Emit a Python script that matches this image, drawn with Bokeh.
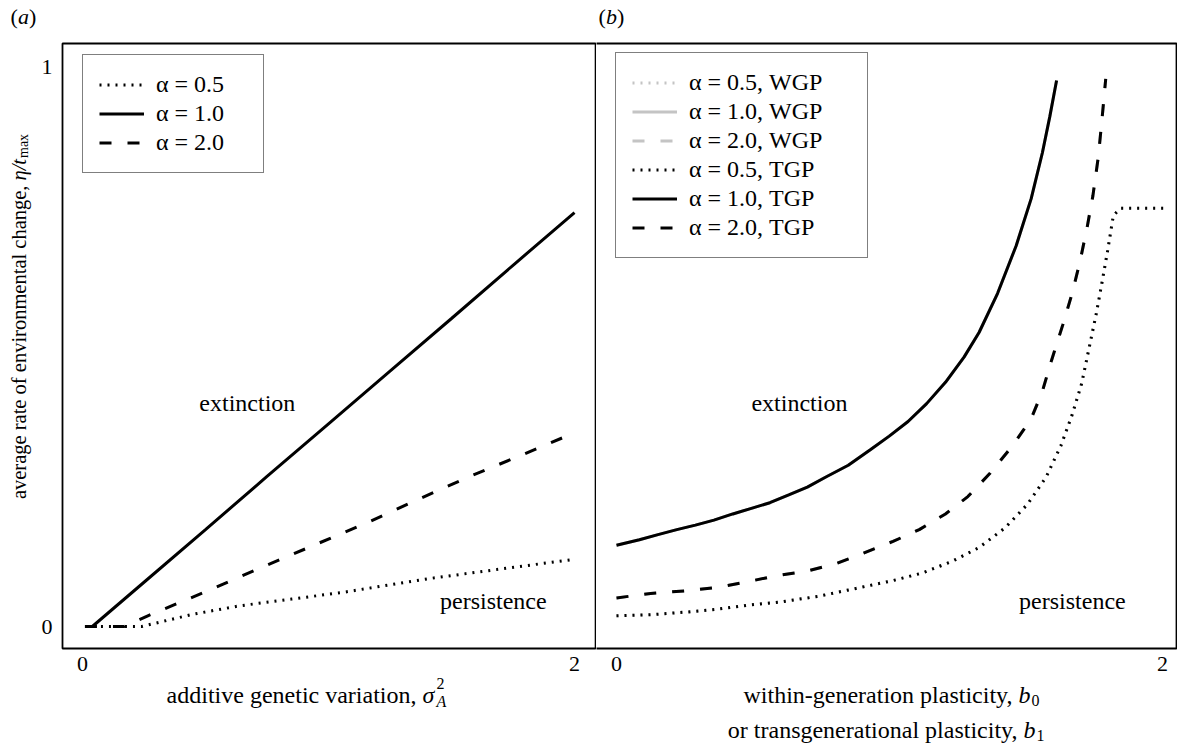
import math
from bokeh.plotting import figure
from bokeh.layouts import row
from bokeh.models import (Range1d, FixedTicker, Legend, LegendItem, Label, LinearAxis,
                          BoxAnnotation)
from bokeh.embed import file_html
from bokeh.resources import INLINE

# ---------------- data ----------------
# panel (a): additive genetic variation vs critical rate
A_X_05 = [0.01, 0.24, 0.45, 0.64, 0.85, 1.06, 1.23, 1.40, 1.57, 1.74, 2.0]
A_Y_05 = [0.0, 0.0, 0.022, 0.037, 0.049, 0.061, 0.073, 0.085, 0.095, 0.105, 0.12]
A_X_10 = [0.01, 0.04, 0.25, 0.5, 0.75, 1.0, 1.25, 1.5, 1.75, 2.0]
A_Y_10 = [0.0, 0.0, 0.079, 0.173, 0.268, 0.362, 0.456, 0.550, 0.645, 0.739]
A_X_20 = [0.01, 0.17, 0.27, 0.50, 0.72, 0.94, 1.16, 1.37, 1.58, 1.79, 2.0]
A_Y_20 = [0.0, 0.0, 0.020, 0.062, 0.104, 0.145, 0.186, 0.228, 0.269, 0.307, 0.346]

# panel (b): plasticity vs critical rate
B_X_05 = [0.0, 0.125, 0.262, 0.371, 0.480, 0.603, 0.740, 0.877, 1.013, 1.123, 1.232, 1.328,
          1.423, 1.505, 1.574, 1.628, 1.669, 1.704, 1.731, 1.758, 1.779, 1.799, 1.820, 1.847,
          1.902, 1.957, 2.011]
B_Y_05 = [0.019, 0.021, 0.026, 0.031, 0.038, 0.044, 0.054, 0.068, 0.082, 0.096, 0.117, 0.141,
          0.176, 0.218, 0.267, 0.323, 0.378, 0.434, 0.497, 0.560, 0.616, 0.671, 0.734, 0.747,
          0.747, 0.747, 0.747]
B_X_10 = [0.0, 0.084, 0.152, 0.221, 0.289, 0.357, 0.426, 0.494, 0.562, 0.631, 0.699, 0.767,
          0.849, 0.931, 0.999, 1.068, 1.136, 1.205, 1.273, 1.328, 1.396, 1.464, 1.519, 1.560,
          1.587, 1.612]
B_Y_10 = [0.145, 0.155, 0.164, 0.173, 0.181, 0.190, 0.201, 0.211, 0.221, 0.235, 0.249, 0.267,
          0.288, 0.316, 0.340, 0.366, 0.398, 0.436, 0.481, 0.525, 0.595, 0.680, 0.764, 0.846,
          0.910, 0.975]
B_X_20 = [0.0, 0.125, 0.262, 0.371, 0.480, 0.590, 0.699, 0.808, 0.904, 1.013, 1.109, 1.205,
          1.287, 1.369, 1.451, 1.519, 1.560, 1.594, 1.635, 1.669, 1.697, 1.724, 1.745, 1.765,
          1.779, 1.792]
B_Y_20 = [0.051, 0.059, 0.064, 0.070, 0.080, 0.091, 0.099, 0.113, 0.131, 0.152, 0.173, 0.201,
          0.232, 0.274, 0.323, 0.371, 0.420, 0.476, 0.539, 0.595, 0.650, 0.713, 0.769, 0.839,
          0.909, 0.978]

ALPHAS = ["0.5", "1.0", "2.0"]
X_TICKS = [0, 2]
Y_TICKS = [0, 1]
REGION_LABELS = ["extinction", "persistence"]

FONT = "Liberation Serif"
DASH = {"0.5": "2 6", "1.0": "solid", "2.0": "12 16"}
LW = 3
H = 747

# page-pixel -> data helpers (used only to place frames, axes and texts)
def xa(px):
    return (px - 82) / 246.0

def xb(px):
    return (px - 616) / 273.0

def yd(py):
    return (626 - py) / 560.0

FRAME_TOP, FRAME_BOTTOM = 43, 648


def make_fig(width, xr, xfun, frame_left, frame_right, yaxis):
    p = figure(width=width, height=H, x_range=Range1d(*xr), y_range=Range1d(yd(H), yd(0)),
               output_backend="svg", toolbar_location=None,
               x_axis_location=None, y_axis_location=None,
               min_border_left=0, min_border_right=0, min_border_top=0, min_border_bottom=0)
    p.grid.visible = False
    p.outline_line_color = None
    p.background_fill_color = "white"
    p.border_fill_color = "white"
    # panel frame
    p.add_layout(BoxAnnotation(left=xfun(frame_left), right=xfun(frame_right),
                               bottom=yd(FRAME_BOTTOM), top=yd(FRAME_TOP),
                               fill_alpha=0, line_color="black", line_alpha=1.0,
                               line_width=1.8, level="overlay"))
    axes = []
    xax = LinearAxis(fixed_location=yd(FRAME_BOTTOM), ticker=FixedTicker(ticks=X_TICKS))
    xax.major_label_standoff = 8
    p.add_layout(xax, "below")
    axes.append(xax)
    if yaxis:
        yax = LinearAxis(fixed_location=xfun(frame_left), ticker=FixedTicker(ticks=Y_TICKS))
        yax.major_label_standoff = 10
        p.add_layout(yax, "left")
        axes.append(yax)
    for ax in axes:
        ax.axis_line_color = None
        ax.major_tick_line_color = None
        ax.minor_tick_line_color = None
        ax.major_tick_out = 0
        ax.major_tick_in = 0
        ax.minor_tick_out = 0
        ax.major_label_text_font = FONT
        ax.major_label_text_font_size = "22px"
        ax.major_label_text_color = "black"
    return p


def lab(p, x, y, text, size="24px", style="normal", align="left", baseline="alphabetic", angle=0.0):
    p.add_layout(Label(x=x, y=y, text=text, text_font=FONT, text_font_size=size,
                       text_font_style=style, text_align=align, text_baseline=baseline,
                       angle=angle, text_color="black"))


def style_legend(leg, lw):
    leg.label_text_font = FONT
    leg.label_text_font_size = "24px"
    leg.label_text_color = "black"
    leg.glyph_width = 45
    leg.glyph_height = 25
    leg.label_height = 25
    leg.label_width = lw
    leg.label_standoff = 12
    leg.spacing = 2
    leg.padding = 16
    leg.margin = 0
    leg.border_line_color = "black"
    leg.border_line_width = 1.5
    leg.background_fill_color = "white"
    leg.background_fill_alpha = 1.0


# ---------------- panel (a) ----------------
p1 = make_fig(596, (xa(0), xa(596)), xa, 62, 595.1, True)
ra = {}
for key, xs, ys in [("0.5", A_X_05, A_Y_05), ("1.0", A_X_10, A_Y_10), ("2.0", A_X_20, A_Y_20)]:
    ra[key] = p1.line(xs, ys, line_color="black", line_width=LW, line_dash=DASH[key])

leg_a = Legend(items=[LegendItem(label="α = " + k, renderers=[ra[k]]) for k in ALPHAS],
               location=(82, H - 173))
style_legend(leg_a, 91)
p1.add_layout(leg_a)

lab(p1, 0.67, 0.40, REGION_LABELS[0], align="center", baseline="middle")
lab(p1, 1.67, 0.045, REGION_LABELS[1], align="center", baseline="middle")

# panel tag (a)
lab(p1, xa(10), yd(16), "(", size="22px", baseline="middle")
lab(p1, xa(17.5), yd(16), "a", size="22px", style="italic", baseline="middle")
lab(p1, xa(28.5), yd(16), ")", size="22px", baseline="middle")

# x label (a)
lab(p1, xa(416), yd(694), "additive genetic variation,", align="right")
lab(p1, xa(422), yd(694), "σ", style="italic")
lab(p1, xa(436), yd(683), "2", size="16px")
lab(p1, xa(436), yd(701), "A", size="16px", style="italic")

# y label (rotated)
yx = xa(18)
lab(p1, yx, yd(185), "average rate of environmental change,", size="20.5px", align="right",
    angle=math.pi / 2)
lab(p1, yx, yd(180), "η/t", size="20.5px", style="italic", angle=math.pi / 2)
lab(p1, xa(22.5), yd(157.5), "max", size="14px", angle=math.pi / 2)

# ---------------- panel (b) ----------------
p2 = make_fig(581, (xb(596), xb(1177)), xb, 590, 1176, False)
rw = {}
rt = {}
for key, xs, ys in [("0.5", B_X_05, B_Y_05), ("1.0", B_X_10, B_Y_10), ("2.0", B_X_20, B_Y_20)]:
    rw[key] = p2.line(xs, ys, line_color="#c4c4c4", line_width=LW, line_dash=DASH[key])
for key, xs, ys in [("0.5", B_X_05, B_Y_05), ("1.0", B_X_10, B_Y_10), ("2.0", B_X_20, B_Y_20)]:
    rt[key] = p2.line(xs, ys, line_color="black", line_width=LW, line_dash=DASH[key])

items_b = [LegendItem(label="α = " + k + ", WGP", renderers=[rw[k]]) for k in ALPHAS] + \
          [LegendItem(label="α = " + k + ", TGP", renderers=[rt[k]]) for k in ALPHAS]
leg_b = Legend(items=items_b, location=(19, H - 258))
style_legend(leg_b, 162)
p2.add_layout(leg_b)

lab(p2, 0.67, 0.40, REGION_LABELS[0], align="center", baseline="middle")
lab(p2, 1.67, 0.045, REGION_LABELS[1], align="center", baseline="middle")

# panel tag (b)
lab(p2, xb(598), yd(16), "(", size="22px", baseline="middle")
lab(p2, xb(605.5), yd(16), "b", size="22px", style="italic", baseline="middle")
lab(p2, xb(616.5), yd(16), ")", size="22px", baseline="middle")

# x label (b), two lines
lab(p2, xb(1012), yd(694), "within-generation plasticity,", align="right")
lab(p2, xb(1018), yd(694), "b", style="italic")
lab(p2, xb(1031), yd(700), "0", size="16px")
lab(p2, xb(1017), yd(729), "or transgenerational plasticity,", align="right")
lab(p2, xb(1023), yd(729), "b", style="italic")
lab(p2, xb(1036), yd(735), "1", size="16px")

layout = row(p1, p2)
open("out.html", "w").write(file_html(layout, INLINE))
